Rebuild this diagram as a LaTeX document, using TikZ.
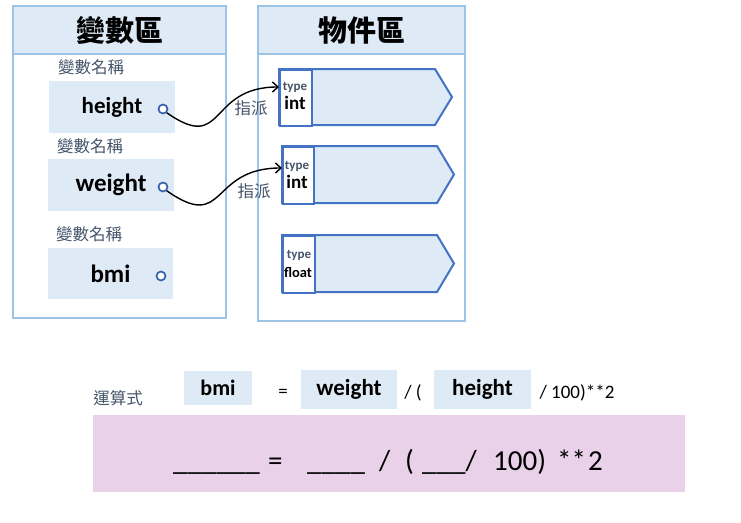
\documentclass[tikz,border=0pt]{standalone}
\usepackage{fontspec}
\setmainfont{Carlito}
\newfontfamily\cjk{Noto Sans CJK TC}
\usetikzlibrary{arrows.meta}
\definecolor{panelline}{HTML}{9DC3E6}
\definecolor{headfill}{HTML}{DEEBF7}
\definecolor{boxfill}{HTML}{DEEAF6}
\definecolor{objline}{HTML}{4472C4}
\definecolor{labelc}{HTML}{44546A}
\definecolor{pinkfill}{HTML}{E9D1E9}
\definecolor{portc}{HTML}{3560AC}
\newcommand{\fsz}[1]{\fontsize{#1}{#1}\selectfont}
\begin{document}
\begin{tikzpicture}[x=1pt,y=-1pt,
  panel/.style={draw=panelline, line width=1.3pt, inner sep=0pt},
  header/.style={panel, fill=headfill, minimum height=48pt, font=\cjk\bfseries\fsz{29}},
  varlabel/.style={inner sep=0pt, text=labelc, font=\cjk\fsz{16.5}},
  varbox/.style={fill=boxfill, inner sep=0pt},
  port/.style={circle, draw=portc, fill=white, line width=1.7pt, minimum size=9pt, inner sep=0pt},
  objshape/.style={draw=objline, line width=2pt, fill=boxfill, line join=miter},
  typecell/.style={draw=objline, line width=2pt, fill=white, inner sep=0pt, anchor=north west},
  typelbl/.style={inner sep=0pt, text=labelc, font=\bfseries\fsz{13}},
  typename/.style={inner sep=0pt, font=\bfseries\fsz{19}},
  assign/.style={line width=1.4pt, -{Straight Barb[length=5.5pt,width=10pt]}},
  asglbl/.style={inner sep=0pt, text=labelc, font=\cjk\fsz{16.5}},
  frm/.style={inner sep=0pt, font=\fsz{19}},
  big/.style={inner sep=0pt, anchor=base west, font=\fsz{29}}
]
\useasboundingbox (0,0) rectangle (741,522);

% panels
\node[panel, minimum width=213pt, minimum height=312pt] (varpanel) at (119.5,162) {};
\node[header, minimum width=213pt] (varhead) at (119.5,30) {變數區};
\node[panel, minimum width=207pt, minimum height=315pt] (objpanel) at (361.5,163.5) {};
\node[header, minimum width=207pt] (objhead) at (361.5,30) {物件區};

% variable labels
\node[varlabel] (l1) at (91,67) {變數名稱};
\node[varlabel] (l2) at (90,146) {變數名稱};
\node[varlabel] (l3) at (89,234) {變數名稱};

% variable boxes
\node[varbox, minimum width=126pt, minimum height=52pt, font=\bfseries\fsz{23}] (hbox) at (112,107) {height};
\node[varbox, minimum width=126pt, minimum height=52pt, font=\bfseries\fsz{25}] (wbox) at (111,185) {weight};
\node[varbox, minimum width=125pt, minimum height=51pt, font=\bfseries\fsz{25}] (bbox) at (110.5,273.5) {bmi};
\node[port] (hp) at (163,109) {};
\node[port] (wp) at (163,187) {};
\node[port] (bp) at (161,276) {};

% object boxes
\draw[objshape] (279,69) -- (435,69) -- (452,97) -- (435,125) -- (279,125) -- cycle;
\node[typecell, minimum width=32pt, minimum height=56pt] (t1) at (279,69) {};
\draw[objshape] (282,146) -- (437,146) -- (454,174.5) -- (437,203) -- (282,203) -- cycle;
\node[typecell, minimum width=31pt, minimum height=57pt] (t2) at (282,146) {};
\draw[objshape] (282,235) -- (437,235) -- (454,263.5) -- (437,292) -- (282,292) -- cycle;
\node[typecell, minimum width=32pt, minimum height=57pt] (t3) at (282,235) {};

\node[typelbl] (ty1) at (295,87) {type};
\node[typename] (in1) at (295,103) {int};
\node[typelbl] (ty2) at (297,166) {type};
\node[typename] (in2) at (297,182) {int};
\node[typelbl] (ty3) at (299,255) {type};
\node[typename, font=\bfseries\fsz{14.5}] (fl3) at (298,272) {float};

% assignments
\coordinate (a1) at (279,87);
\coordinate (a2) at (282,168);
\draw[assign] (hp.south east) to[out=-35,in=180,looseness=1.6] (a1);
\draw[assign] (wp.south east) to[out=-35,in=180,looseness=1.6] (a2);
\node[asglbl] (as1) at (251,108) {指派};
\node[asglbl] (as2) at (254,191) {指派};

% expression row
\node[inner sep=0pt, text=labelc, font=\cjk\fsz{16.5}] (expr) at (118,398) {運算式};
\node[varbox, minimum width=68pt, minimum height=34pt, font=\bfseries\fsz{22}] (ebmi) at (218,388) {bmi};
\node[frm] (eq) at (283,393) {=};
\node[varbox, minimum width=96pt, minimum height=39pt, font=\bfseries\fsz{23}] (ew) at (349,389.5) {weight};
\node[frm] (sl) at (413,393) {/ (};
\node[varbox, minimum width=97pt, minimum height=39pt, font=\bfseries\fsz{23}] (eh) at (482.5,389.5) {height};
\node[frm] (rest) at (577,393) {/ 100)**2};

% pink box
\node[fill=pinkfill, inner sep=0pt, minimum width=592pt, minimum height=77pt] (pink) at (389,453.5) {};
\node[big] (b1) at (173,470) {\_\_\_\_\_\_};
\node[big] (b2) at (268,470) {=};
\node[big] (b3) at (307,470) {\_\_\_\_};
\node[big] (b4) at (379,470) {/};
\node[big] (b5) at (405,470) {(};
\node[big] (b6) at (422,470) {\_\_\_/};
\node[big] (b7) at (493,470) {100)};
\node[big] (b8) at (557,470) {**};
\node[big] (b9) at (588,470) {2};
\end{tikzpicture}
\end{document}
